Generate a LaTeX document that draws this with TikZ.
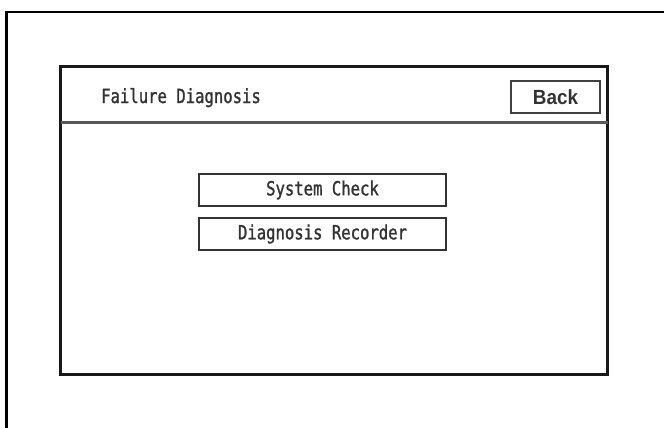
\documentclass[tikz,border=0pt]{standalone}
\usepackage{fontspec}
\newfontfamily\monoui[FakeStretch=0.8,FakeBold=1.2]{DejaVu Sans Mono}
\newfontfamily\btnui[FakeStretch=0.92]{Liberation Sans Bold}
\begin{document}
\begin{tikzpicture}[x=1pt,y=-1pt,
  uitext/.style={font=\monoui\fontsize{19.5}{19.5}\selectfont, text=black!80, inner sep=0pt},
  menubtn/.style={draw=black!80, line width=1.6pt, minimum width=247pt, minimum height=32pt,
    inner sep=0pt, font=\monoui\fontsize{19.5}{19.5}\selectfont, text=black!80},
  backbtn/.style={draw=black!75, line width=1.6pt, minimum width=89pt, minimum height=32pt,
    inner sep=0pt, font=\btnui\fontsize{20.5}{20.5}\selectfont, text=black!80},
  screen/.style={draw=black!90, line width=3pt, minimum width=547pt, minimum height=307pt, inner sep=0pt}]
  \useasboundingbox (0,0) rectangle (664,428);
  % page frame, open to the right and bottom
  \coordinate (fbl) at (6.5,428);
  \coordinate (ftl) at (6.5,12);
  \coordinate (ftr) at (664,12);
  \draw[line width=2.2pt] (fbl) -- (ftl) -- (ftr);
  % display panel
  \node[screen] (panel) at (334.25,220.5) {};
  \coordinate (divl) at (60.75,122.5);
  \coordinate (divr) at (607.75,122.5);
  \draw[line width=2.2pt, black!65] (divl) -- (divr);
  % title bar
  \node[uitext, anchor=base west] (title) at (101,103) {Failure Diagnosis};
  \node[backbtn] (back) at (555.5,97) {Back};
  % menu buttons
  \node[menubtn] (syscheck) at (322.5,190) {System Check};
  \node[menubtn] (recorder) at (322.5,234) {Diagnosis Recorder};
\end{tikzpicture}
\end{document}
